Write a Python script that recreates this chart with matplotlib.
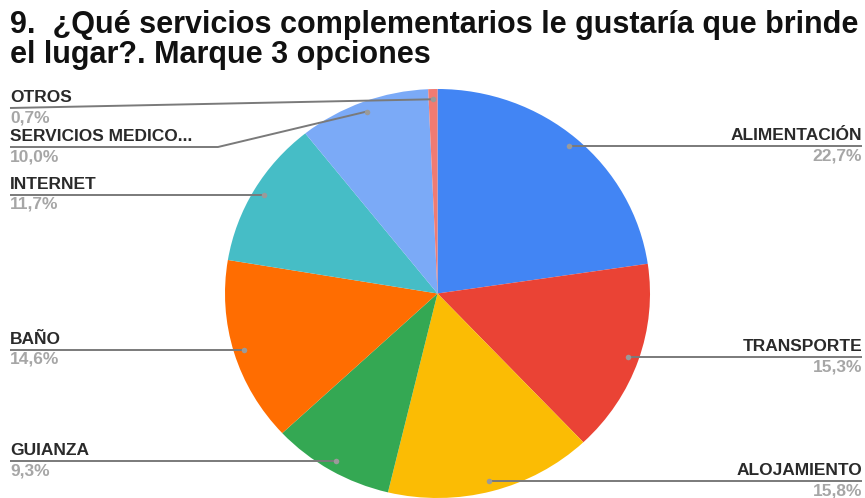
import matplotlib
matplotlib.use('Agg')
import matplotlib.pyplot as plt
import numpy as np

plt.rcParams['font.family'] = ['Liberation Sans', 'DejaVu Sans']

# Data (clockwise from 12 o'clock)
labels = ['ALIMENTACIÓN', 'TRANSPORTE', 'ALOJAMIENTO', 'GUIANZA', 'BAÑO',
          'INTERNET', 'SERVICIOS MEDICO...', 'OTROS']
values = [22.7, 15.3, 15.8, 9.3, 14.6, 11.7, 10.0, 0.7]
pct_text = ['22,7%', '15,3%', '15,8%', '9,3%', '14,6%', '11,7%', '10,0%', '0,7%']
colors = ['#4285F4', '#EA4335', '#FBBC04', '#34A853', '#FF6D01',
          '#46BDC6', '#7BAAF7', '#F07B72']

title = "9.  ¿Qué servicios complementarios le gustaría que brinde\nel lugar?. Marque 3 opciones"

W, H = 865, 498
fig = plt.figure(figsize=(W / 100, H / 100), dpi=100)
fig.patch.set_facecolor('white')

# pie box in pixels (source image is a bit wider than tall)
p_left, p_right, p_top, p_bottom = 225, 650, 89, 498
ax_pie = fig.add_axes([p_left / W, 1 - p_bottom / H,
                       (p_right - p_left) / W, (p_bottom - p_top) / H])
wedges, _ = ax_pie.pie(values, colors=colors, startangle=90, counterclock=False,
                       wedgeprops=dict(linewidth=0))
ax_pie.set_aspect('auto')
ax_pie.set_xlim(-1, 1)
ax_pie.set_ylim(-1, 1)

# overlay in pixel coords, y from the top
ax = fig.add_axes([0, 0, 1, 1], zorder=5)
ax.set_xlim(0, W)
ax.set_ylim(H, 0)
ax.axis('off')
ax.patch.set_visible(False)

to_px = ax_pie.transData + ax.transData.inverted()

# labels that get pushed away from their slice: (line y, knee x)
moved = {'OTROS': (108, 10), 'SERVICIOS MEDICO...': (147, 218)}

line_col = '#7a7a7a'
for w, name, pct in zip(wedges, labels, pct_text):
    mid = np.deg2rad((w.theta1 + w.theta2) / 2)
    dx, dy = to_px.transform((0.95 * np.cos(mid), 0.95 * np.sin(mid)))
    left_side = np.cos(mid) < 0
    if name in moved:
        ly, kx = moved[name]
    else:
        ly, kx = dy, None
    x0 = 10 if left_side else 862
    if kx is None:
        xs, ys = [x0, dx], [ly, dy]
    else:
        xs, ys = [x0, kx, dx], [ly, ly, dy]
    ax.plot(xs, ys, color=line_col, lw=1.4, solid_capstyle='butt')
    ax.plot(dx, dy, 'o', ms=4, color='#9a9a9a', mec='none')
    ha = 'left' if left_side else 'right'
    ax.text(x0, ly - 3, name, ha=ha, va='bottom', fontsize=12.5, color='#2a2a2a',
            fontweight='bold')
    ax.text(x0, ly + 2, pct, ha=ha, va='top', fontsize=12.5, color='#a6a6a6',
            fontweight='bold')

fig.text(10 / W, 1 - 10 / H, title, ha='left', va='top', fontsize=22,
         fontweight='bold', color='#111111', linespacing=0.98)

fig.savefig('out.png', dpi=100, facecolor='white')
